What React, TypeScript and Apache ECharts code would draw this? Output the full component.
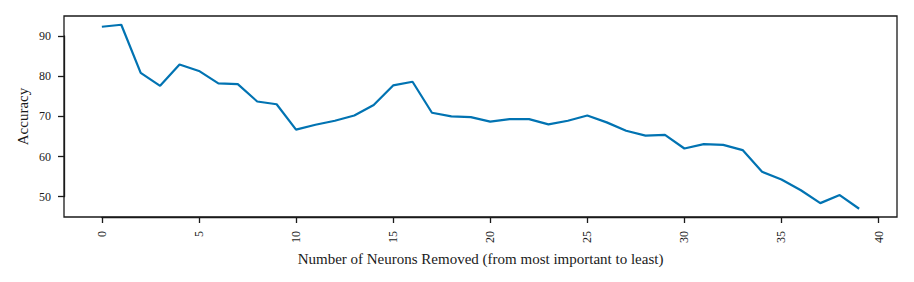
import React, { useEffect, useRef } from "react";
import * as echarts from "echarts";

const neuronsRemoved: number[] = Array.from({ length: 40 }, (_, i) => i);
const accuracy: number[] = [
  92.3, 92.8, 80.8, 77.6, 82.9, 81.3, 78.2, 78.0, 73.7, 73.0,
  66.7, 67.9, 68.9, 70.2, 72.8, 77.7, 78.6, 70.9, 70.0, 69.8,
  68.7, 69.3, 69.3, 68.0, 68.9, 70.2, 68.5, 66.4, 65.2, 65.4,
  62.0, 63.1, 62.9, 61.6, 56.2, 54.3, 51.6, 48.4, 50.4, 47.0,
];
const xTickRange: number[] = [0, 40, 5];
const yTickRange: number[] = [50, 90, 10];

const FONT = "'Liberation Serif', 'DejaVu Serif', serif";
const INK = "#1a1a1a";

const X_MIN = -1.95;
const X_MAX = 40.95;
const Y_MIN = 44.95;
const Y_MAX = 94.97;
const G_LEFT = 64;
const G_TOP = 16;
const G_W = 833;
const G_H = 201;

export default function App() {
  const ref = useRef<HTMLDivElement>(null);
  useEffect(() => {
    if (!ref.current) return;
    const chart = echarts.init(ref.current, undefined, { renderer: "svg" });
    const px = (v: number) => G_LEFT + ((v - X_MIN) / (X_MAX - X_MIN)) * G_W;
    const py = (v: number) => G_TOP + ((Y_MAX - v) / (Y_MAX - Y_MIN)) * G_H;
    const x0 = px(xTickRange[0]);
    const x1 = px(xTickRange[1]);
    const yTop = py(yTickRange[1]);
    const yBot = py(yTickRange[0]);
    const tickStyle = { color: INK, width: 1.3 };
    const hiddenAxis = { type: "value", show: false, min: 0, max: 1 };
    chart.setOption({
      animation: false,
      backgroundColor: "#ffffff",
      grid: [
        {
          left: G_LEFT,
          top: G_TOP,
          width: G_W,
          height: G_H,
          show: true,
          borderColor: INK,
          borderWidth: 1.3,
          backgroundColor: "transparent",
        },
        { left: x0, top: G_TOP, width: x1 - x0, height: G_H, show: false },
        { left: G_LEFT, top: yTop, width: G_W, height: yBot - yTop, show: false },
      ],
      xAxis: [
        {
          type: "value",
          gridIndex: 0,
          min: X_MIN,
          max: X_MAX,
          name: "Number of Neurons Removed (from most important to least)",
          nameLocation: "middle",
          nameGap: 34,
          nameTextStyle: { fontFamily: FONT, fontSize: 15, color: INK },
          axisLine: { show: false, onZero: false },
          axisTick: { show: false },
          axisLabel: { show: false },
          splitLine: { show: false },
        },
        {
          type: "value",
          gridIndex: 1,
          position: "bottom",
          min: xTickRange[0],
          max: xTickRange[1],
          interval: xTickRange[2],
          axisLine: { show: true, onZero: false, lineStyle: tickStyle },
          axisTick: { show: true, inside: false, length: 6, lineStyle: tickStyle },
          axisLabel: {
            show: true,
            rotate: 90,
            margin: 14,
            fontFamily: FONT,
            fontSize: 12,
            color: INK,
          },
          splitLine: { show: false },
        },
        { ...hiddenAxis, gridIndex: 2 },
      ],
      yAxis: [
        {
          type: "value",
          gridIndex: 0,
          min: Y_MIN,
          max: Y_MAX,
          name: "Accuracy",
          nameLocation: "middle",
          nameGap: 34,
          nameTextStyle: { fontFamily: FONT, fontSize: 15, color: INK },
          axisLine: { show: false, onZero: false },
          axisTick: { show: false },
          axisLabel: { show: false },
          splitLine: { show: false },
        },
        { ...hiddenAxis, gridIndex: 1 },
        {
          type: "value",
          gridIndex: 2,
          position: "left",
          min: yTickRange[0],
          max: yTickRange[1],
          interval: yTickRange[2],
          axisLine: { show: true, onZero: false, lineStyle: tickStyle },
          axisTick: { show: true, inside: false, length: 6, lineStyle: tickStyle },
          axisLabel: {
            show: true,
            margin: 13,
            fontFamily: FONT,
            fontSize: 12,
            color: INK,
          },
          splitLine: { show: false },
        },
      ],
      series: [
        {
          type: "line",
          xAxisIndex: 0,
          yAxisIndex: 0,
          data: neuronsRemoved.map((x, i) => [x, accuracy[i]]),
          showSymbol: false,
          lineStyle: { color: "#0173b2", width: 2.2 },
          itemStyle: { color: "#0173b2" },
        },
      ],
    });
    return () => chart.dispose();
  }, []);
  return <div ref={ref} style={{ width: 914, height: 282, position: "absolute", left: 0, top: 0 }} />;
}
